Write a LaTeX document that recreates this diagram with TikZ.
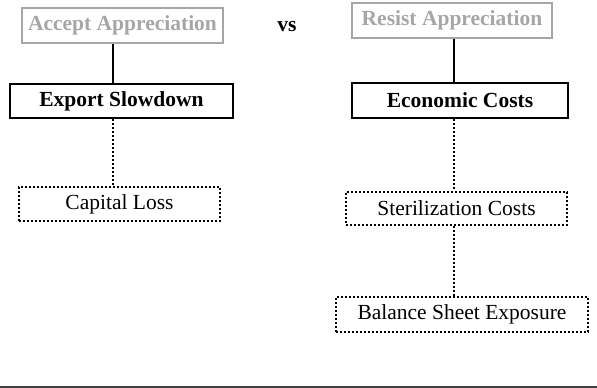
\documentclass[tikz,border=0pt]{standalone}
\usepackage{fontspec}
\setmainfont{Liberation Serif}
\usepackage{tikz}

\definecolor{optgray}{RGB}{166,166,166}

\begin{document}
\begin{tikzpicture}[x=1pt, y=-1pt,
	every node/.style={font=\fontsize{21.5}{25}\selectfont, inner sep=0pt},
	optbox/.style={draw=optgray, text=optgray, line width=1.8pt, font=\fontsize{21.5}{25}\selectfont\bfseries},
	costbox/.style={draw, line width=2.2pt, font=\fontsize{21.5}{25}\selectfont\bfseries},
	subbox/.style={draw, line width=2.2pt, dash pattern=on 2.2pt off 1.8pt},
	solidlink/.style={line width=2pt},
	dotlink/.style={line width=2.2pt, dash pattern=on 2.2pt off 1.8pt}]
	\useasboundingbox (0,0) rectangle (597,388);
	% left column
	\node[optbox, minimum width=201pt, minimum height=35pt] (acc) at (122.5,25.5) {Accept Appreciation};
	\node[costbox, minimum width=223pt, minimum height=34pt] (exp) at (121.5,101) {Export Slowdown};
	\node[subbox, minimum width=201pt, minimum height=34pt] (cap) at (119.5,204) {Capital Loss};
	\node[font=\fontsize{21.5}{25}\selectfont\bfseries] (vs) at (287,27) {vs};
	% right column
	\node[optbox, minimum width=200pt, minimum height=35pt] (res) at (452,20.5) {Resist Appreciation};
	\node[costbox, minimum width=216pt, minimum height=35pt] (eco) at (460,100.5) {Economic Costs};
	\node[subbox, minimum width=221pt, minimum height=33pt] (ster) at (456.5,208.5) {Sterilization Costs};
	\node[subbox, minimum width=252pt, minimum height=35pt] (bal) at (462,314.5) {Balance Sheet Exposure};
	% links
	\coordinate (lx) at (113,0);
	\coordinate (rx) at (454,0);
	\draw[solidlink] (acc.south -| lx) -- (exp.north -| lx);
	\draw[dotlink] (exp.south -| lx) -- (cap.north -| lx);
	\draw[solidlink] (res.south -| rx) -- (eco.north -| rx);
	\draw[dotlink] (eco.south -| rx) -- (ster.north -| rx);
	\draw[dotlink] (ster.south -| rx) -- (bal.north -| rx);
	% rule at bottom
	\coordinate (rl) at (0,387);
	\coordinate (rr) at (597,387);
	\draw[line width=1.6pt, black!75] (rl) -- (rr);
\end{tikzpicture}
\end{document}
